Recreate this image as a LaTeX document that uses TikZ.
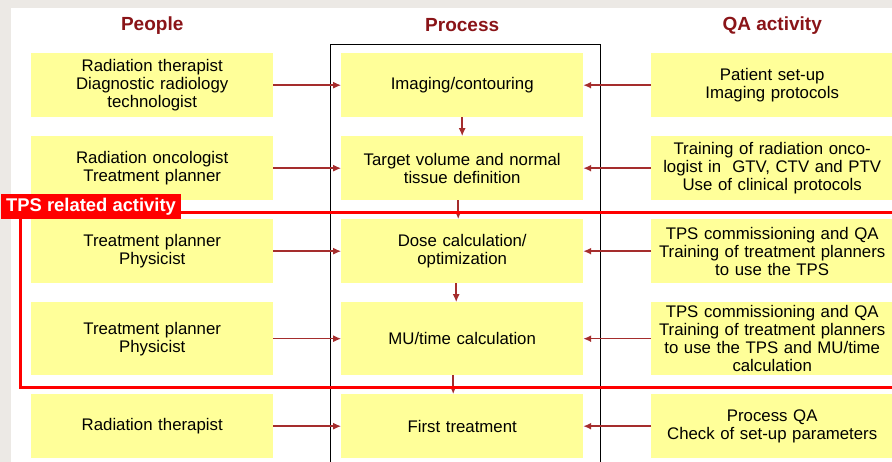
\documentclass[tikz,border=0pt]{standalone}
\usepackage{fontspec}
\setmainfont{Liberation Sans}
\usetikzlibrary{matrix,arrows.meta}

\definecolor{boxyellow}{RGB}{255,255,153}
\definecolor{headred}{RGB}{138,20,24}
\definecolor{arrowred}{RGB}{165,45,45}
\definecolor{tpsred}{RGB}{255,0,0}
\definecolor{bggrey}{RGB}{236,233,229}

\tikzset{
    stepbox/.style={fill=boxyellow, text width=242pt, align=center, minimum height=64pt,
        inner sep=0pt, outer sep=0pt, anchor=center, font=\fontsize{16.8}{18}\selectfont},
    header/.style={font=\fontsize{19}{22}\selectfont\bfseries, text=headred},
    tpslabel/.style={fill=tpsred, text=white, font=\fontsize{18.4}{20}\selectfont\bfseries,
        minimum height=25pt, inner xsep=5pt, inner ysep=0pt}
}

\begin{document}
\begin{tikzpicture}[x=1pt, y=-1pt, >={Latex[length=8pt,width=7pt]}]
    \useasboundingbox (0,0) rectangle (892,462);
    % Background
        \fill[bggrey] (0,0) rectangle (892,462);
        \fill[white] (11,8) rectangle (892,462);
        \draw[line width=0.8pt] (330,470) -- (330,44) -- (600,44) -- (600,470);
    % Define matrix
        \matrix (m) [matrix of nodes, nodes={stepbox}, column sep=68pt, row sep=19pt,
            inner sep=0pt, anchor=north west, row 4/.style={nodes={minimum height=73pt}}]
            at (31,53)
        {
            {Radiation therapist\\Diagnostic radiology\\technologist} & Imaging/contouring & {Patient set-up\\Imaging protocols} \\
            {Radiation oncologist\\Treatment planner} & {Target volume and normal\\tissue definition} & {Training of radiation onco-\\logist in\ \ GTV, CTV and PTV\\Use of clinical protocols} \\
            {Treatment planner\\Physicist} & {Dose calculation/\\optimization} & {TPS commissioning and QA\\Training of treatment planners\\to use the TPS} \\
            {Treatment planner\\Physicist} & MU/time calculation & {TPS commissioning and QA\\Training of treatment planners\\to use the TPS and MU/time\\calculation} \\
            Radiation therapist & First treatment & {Process QA\\Check of set-up parameters} \\
        };
        % Headers
        \node[header] (hpeople) at ([yshift=28pt]m-1-1.north) {People};
        \node[header] (hprocess) at ([yshift=28pt]m-1-2.north) {Process};
        \node[header] (hqa) at ([yshift=28pt]m-1-3.north) {QA activity};
        % Draw arrows
        \foreach \r in {1,...,5} {
            \draw[->, arrowred, line width=1.6pt] (m-\r-1) -- (m-\r-2);
            \draw[->, arrowred, line width=1.6pt] (m-\r-3) -- (m-\r-2);
        }
        \draw[->, arrowred, line width=1.6pt] (m-1-2.south) -- (m-2-2.north);
        \draw[->, arrowred, line width=1.6pt] ([xshift=-4pt]m-2-2.south) -- ([xshift=-4pt]m-3-2.north);
        \draw[->, arrowred, line width=1.6pt] ([xshift=-6pt]m-3-2.south) -- ([xshift=-6pt]m-4-2.north);
        \draw[->, arrowred, line width=1.6pt] ([xshift=-9pt]m-4-2.south) -- ([xshift=-9pt]m-5-2.north);
        % TPS frame
        \draw[tpsred, line width=3pt] (20,212.5) rectangle (905,387.5);
        \node[tpslabel, anchor=west] (tps) at (1,206.5) {TPS related activity};
    \end{tikzpicture}
\end{document}
